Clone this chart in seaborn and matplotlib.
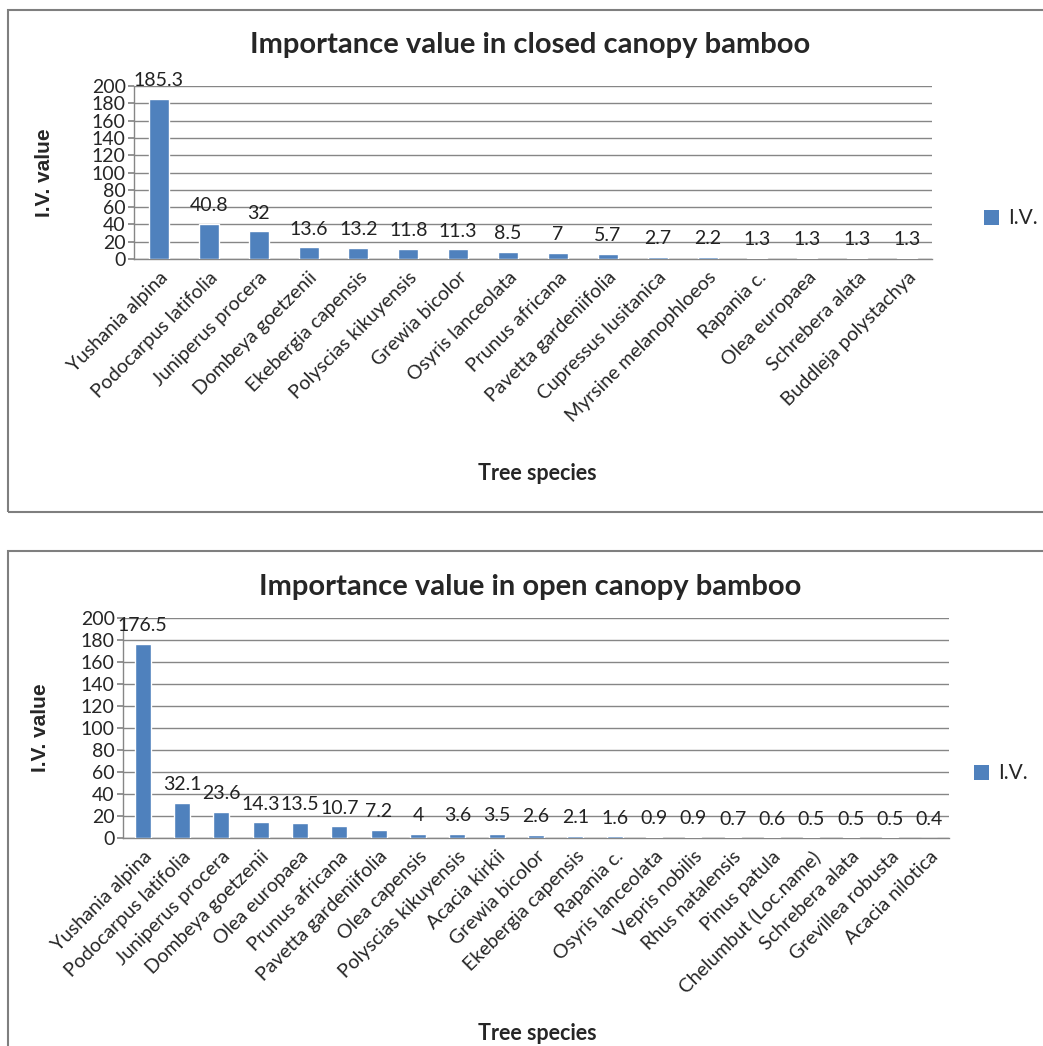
import numpy as np
import pandas as pd
import seaborn as sns
import matplotlib.pyplot as plt
from matplotlib.patches import Rectangle

# ---------------- data
closed_species = ["Yushania alpina", "Podocarpus latifolia", "Juniperus procera",
                  "Dombeya goetzenii", "Ekebergia capensis", "Polyscias kikuyensis",
                  "Grewia bicolor", "Osyris lanceolata", "Prunus africana",
                  "Pavetta gardeniifolia", "Cupressus lusitanica", "Myrsine melanophloeos",
                  "Rapania c.", "Olea europaea", "Schrebera alata", "Buddleja polystachya"]
closed_iv = [185.3, 40.8, 32, 13.6, 13.2, 11.8, 11.3, 8.5, 7, 5.7, 2.7, 2.2, 1.3, 1.3, 1.3, 1.3]

open_species = ["Yushania alpina", "Podocarpus latifolia", "Juniperus procera",
                "Dombeya goetzenii", "Olea europaea", "Prunus africana",
                "Pavetta gardeniifolia", "Olea capensis", "Polyscias kikuyensis",
                "Acacia kirkii", "Grewia bicolor", "Ekebergia capensis", "Rapania c.",
                "Osyris lanceolata", "Vepris nobilis", "Rhus natalensis", "Pinus patula",
                "Chelumbut (Loc.name)", "Schrebera alata", "Grevillea robusta",
                "Acacia nilotica"]
open_iv = [176.5, 32.1, 23.6, 14.3, 13.5, 10.7, 7.2, 4, 3.6, 3.5, 2.6, 2.1, 1.6,
           0.9, 0.9, 0.7, 0.6, 0.5, 0.5, 0.5, 0.4]

yticks = list(range(0, 201, 20))
bar_color = "#4F81BD"
grid_color = "#868686"

sns.set_theme(style="white")
plt.rcParams["font.family"] = ["Lato", "DejaVu Sans"]

W, H = 1043, 1046
fig = plt.figure(figsize=(W / 100, H / 100), dpi=100)


def px_axes(left, right, top, bottom):
    return fig.add_axes([left / W, 1 - bottom / H, (right - left) / W, (bottom - top) / H])


def draw_chart(ax, species, iv, title, title_y, ylab_x, xlab_y, leg_xy):
    df = pd.DataFrame({"species": species, "iv": iv})
    sns.barplot(data=df, x="species", y="iv", color=bar_color, width=0.4,
                saturation=1, ax=ax, zorder=3)
    ax.set_ylim(0, 200)
    ax.set_yticks(yticks)
    ax.set_yticklabels([str(t) for t in yticks], fontsize=14)
    ax.yaxis.grid(True, color=grid_color, linewidth=1, zorder=0)
    ax.set_axisbelow(True)
    for s in ["top", "right"]:
        ax.spines[s].set_visible(False)
    for s in ["left", "bottom"]:
        ax.spines[s].set_color(grid_color)
        ax.spines[s].set_linewidth(1)
    ax.tick_params(axis="y", length=4, color=grid_color, pad=2, left=True)
    ax.tick_params(axis="x", length=0, pad=7)
    ax.set_xticks(range(len(species)))
    ax.set_xticklabels(species, rotation=45, ha="right", rotation_mode="anchor", fontsize=14)
    ax.set_xlim(-0.5, len(species) - 0.5)
    ax.bar_label(ax.containers[0], labels=[f"{v:g}" for v in iv], padding=7,
                 fontsize=14, color="#222222")
    ax.set_xlabel("")
    ax.set_ylabel("")
    fig.text(530 / W, 1 - title_y / H, title, fontsize=21, fontweight="bold",
             ha="center", va="center")
    pos = ax.get_position()
    fig.text(ylab_x / W, (pos.y0 + pos.y1) / 2, "I.V. value", fontsize=15, fontweight="bold",
             rotation=90, ha="center", va="center", family="Liberation Sans")
    fig.text(537 / W, 1 - xlab_y / H, "Tree species", fontsize=15.5, fontweight="bold",
             ha="center", va="center")
    fig.text(leg_xy[0] / W, 1 - leg_xy[1] / H, "I.V.", fontsize=15, ha="left", va="center")
    fig.patches.append(Rectangle(((leg_xy[0] - 24) / W, 1 - (leg_xy[1] + 7) / H), 15 / W, 15 / H,
                                 transform=fig.transFigure, facecolor=bar_color,
                                 edgecolor="none"))


# chart frames
fig.patches.append(Rectangle((8 / W, 1 - 512 / H), 1.2, (512 - 10) / H,
                             transform=fig.transFigure, fill=False,
                             edgecolor="#7f7f7f", linewidth=1.5))
fig.patches.append(Rectangle((8 / W, -0.2), 1.2, 0.2 + (H - 551) / H,
                             transform=fig.transFigure, fill=False,
                             edgecolor="#7f7f7f", linewidth=1.5))

ax1 = px_axes(134, 932, 86, 259)
draw_chart(ax1, closed_species, closed_iv, "Importance value in closed canopy bamboo",
           45, 45, 473, (1008, 218))

ax2 = px_axes(123, 949, 618, 838)
draw_chart(ax2, open_species, open_iv, "Importance value in open canopy bamboo",
           587, 40, 1033, (998, 773))

fig.savefig("out.png", dpi=100)
